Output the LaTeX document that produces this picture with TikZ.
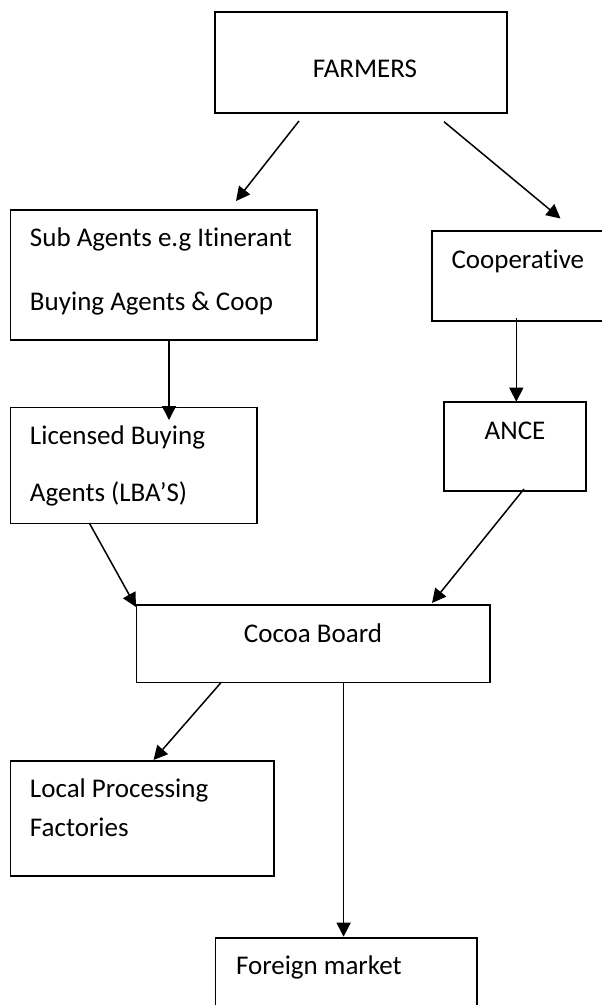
\documentclass[tikz,border=0pt]{standalone}
\usepackage{fontspec}
\setmainfont{Carlito}[Ligatures={NoCommon,NoRare,NoContextual}]
\usetikzlibrary{arrows.meta}
\tikzset{
  box/.style={draw=black, line width=1.8pt, inner sep=0pt, outer sep=0pt, anchor=north west},
  lbl/.style={inner sep=0pt, outer sep=0pt, font=\fontsize{27}{32}\selectfont, text=black},
  conn/.style={draw=black, line width=1.5pt, -{Triangle[length=14pt,width=14pt]}}
}
\begin{document}
\begin{tikzpicture}[x=1pt,y=-1pt]
\useasboundingbox (0,0) rectangle (602,1005);
\fill[white] (0,0) rectangle (602,1005);
\clip (0,0) rectangle (602,1005);

% boxes
\node[box, minimum width=292pt, minimum height=101pt] (farmers) at (215,12) {};
\node[box, minimum width=306.5pt, minimum height=130pt] (sub) at (10.5,210) {};
\node[box, minimum width=190pt, minimum height=90pt] (coop) at (432,231) {};
\node[box, minimum width=246.5pt, minimum height=116pt] (lba) at (10.5,407.5) {};
\node[box, minimum width=142pt, minimum height=89pt] (ance) at (444,402) {};
\node[box, minimum width=353.5pt, minimum height=77.5pt] (cocoa) at (136.5,605) {};
\node[box, minimum width=263.5pt, minimum height=115pt] (local) at (10.5,761) {};
\node[box, minimum width=261.5pt, minimum height=80pt] (foreign) at (215.5,938) {};

% texts
\node[lbl, anchor=base] (tfarmers) at (365,77.3) {FARMERS};
\node[lbl, anchor=base west] (tsub1) at (30,246.7) {Sub Agents e.g Itinerant};
\node[lbl, anchor=base west] (tsub2) at (30,310) {Buying Agents \& Coop};
\node[lbl, anchor=base west] (tcoop) at (451.5,268.3) {Cooperative};
\node[lbl, anchor=base west] (tlba1) at (30,444) {Licensed Buying};
\node[lbl, anchor=base west] (tlba2) at (30,501.7) {Agents (LBA’S)};
\node[lbl, anchor=base] (tance) at (515,439) {ANCE};
\node[lbl, anchor=base] (tcocoa) at (313,642.3) {Cocoa Board};
\node[lbl, anchor=base west] (tlocal1) at (30,797.3) {Local Processing};
\node[lbl, anchor=base west] (tlocal2) at (30,836) {Factories};
\node[lbl, anchor=base west] (tforeign) at (236,974) {Foreign market};

% connector ends
\coordinate (f1) at (299,121);
\coordinate (s1) at (236,201);
\coordinate (f2) at (444,121.7);
\coordinate (c2) at (560.5,218.5);
\coordinate (s3) at (169,340);
\coordinate (l3) at (169,420);
\coordinate (c4) at (516.3,318);
\coordinate (a4) at (516.3,401.7);
\coordinate (l5) at (89.3,523);
\coordinate (b5) at (136,607);
\coordinate (a6) at (524,489);
\coordinate (b6) at (432,603);
\coordinate (b7) at (221.5,682);
\coordinate (p7) at (153.5,760);
\coordinate (b8) at (343.6,682);
\coordinate (m8) at (343.6,936.7);

% connectors
\draw[conn] (f1) -- (s1);
\draw[conn] (f2) -- (c2);
\draw[conn] (s3) -- (l3);
\draw[conn] (c4) -- (a4);
\draw[conn] (l5) -- (b5);
\draw[conn] (a6) -- (b6);
\draw[conn] (b7) -- (p7);
\draw[conn] (b8) -- (m8);
\end{tikzpicture}
\end{document}
